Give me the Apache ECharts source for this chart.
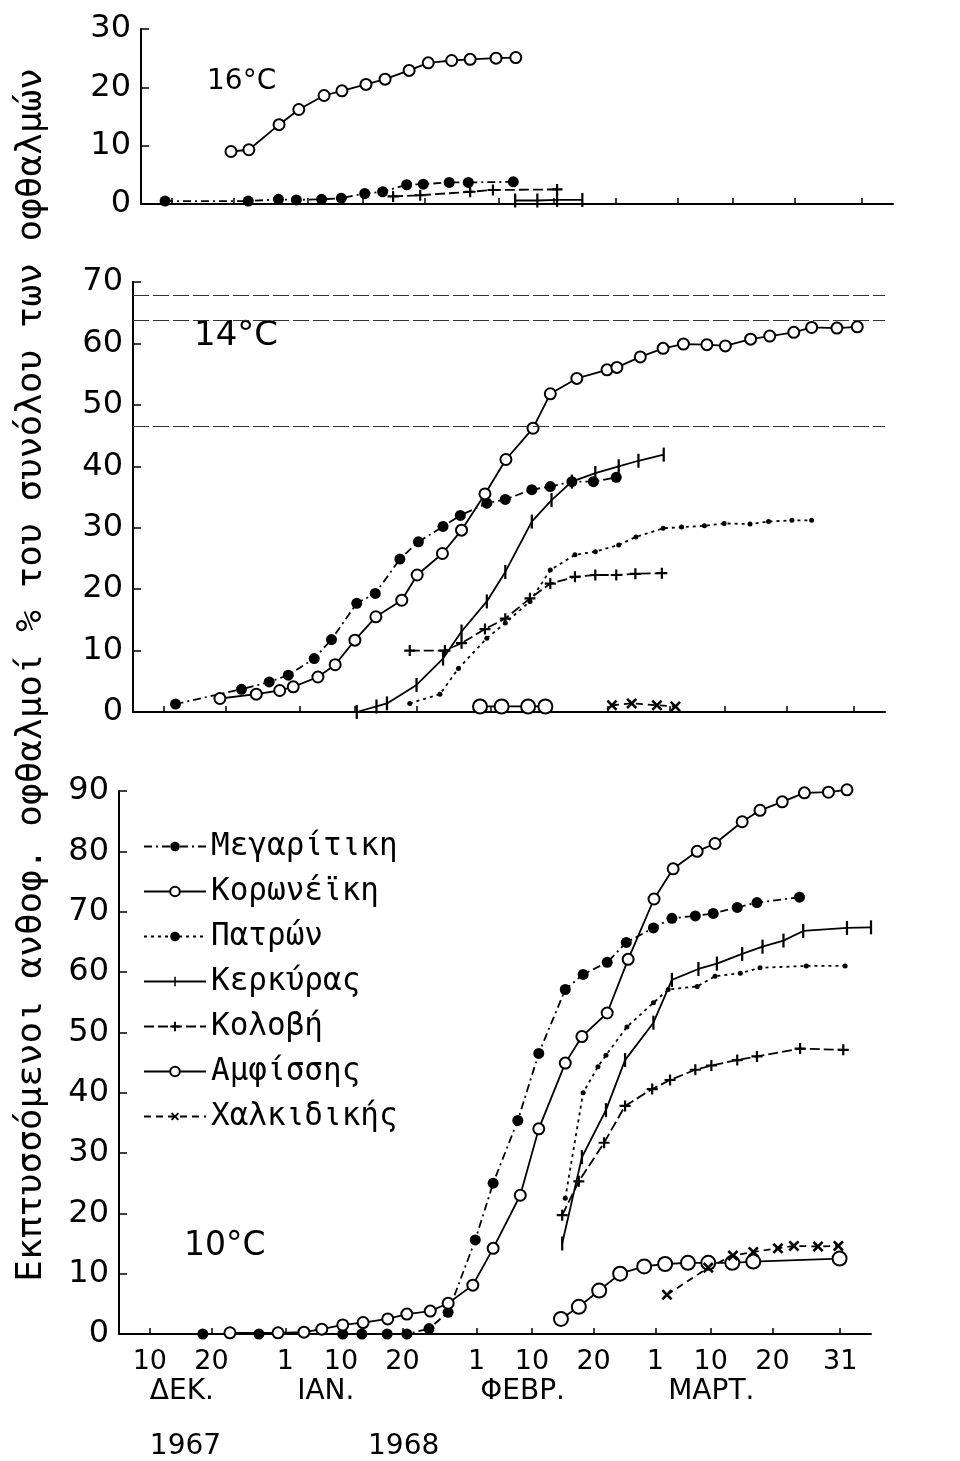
<!DOCTYPE html>
<html>
<head>
<meta charset="utf-8">
<script src="https://cdn.jsdelivr.net/npm/echarts@6.0.0/dist/echarts.min.js"></script>
<style>
html,body{margin:0;padding:0;background:#fff}
#chart{width:960px;height:1461px}
</style>
</head>
<body>
<div id="chart"></div>
<script>
// days counted from 1 Dec 1967 (day 0); 1968 is a leap year
var dayMin = 4, dayMax = 126;
var tickDays = [9, 19, 31, 40, 50, 62, 71, 81, 91, 100, 110, 121];
var tickLabels = ['10', '20', '1', '10', '20', '1', '10', '20', '1', '10', '20', '31'];
var monthDays = [9, 32.9, 62.6, 93.1];
var monthLabels = ['ΔΕΚ.', 'ΙΑΝ.', 'ΦΕΒΡ.', 'ΜΑΡΤ.'];
var yearDays = [9, 44.4];
var yearLabels = ['1967', '1968'];

var names = ['Μεγαρίτικη', 'Κορωνέϊκη', 'Πατρών', 'Κερκύρας', 'Κολοβή', 'Αμφίσσης', 'Χαλκιδικής'];

// 16°C
var meg16Days = [7.9, 21.4, 26.3, 29.2, 33.3, 36.5, 40.3, 43.2, 47.1, 49.8, 54.0, 57.1, 64.4];
var meg16 = [0.5, 0.5, 0.8, 0.7, 0.8, 1.0, 1.8, 2.1, 3.3, 3.4, 3.7, 3.7, 3.8];
var kor16Days = [18.6, 21.5, 26.4, 29.6, 33.7, 36.6, 40.5, 43.6, 47.5, 50.6, 54.4, 57.4, 61.6, 64.8];
var kor16 = [9.0, 9.3, 13.6, 16.2, 18.6, 19.4, 20.5, 21.4, 22.9, 24.2, 24.6, 24.8, 25.0, 25.1];
var ker16Days = [64.7, 68.3, 71.5, 75.6];
var ker16 = [0.6, 0.6, 0.7, 0.7];
var kol16Days = [44.9, 49.3, 57.4, 61.1, 71.5];
var kol16 = [1.3, 1.5, 2.1, 2.4, 2.5];

// 14°C
var meg14Days = [10.9, 21.6, 26.1, 29.2, 33.4, 36.2, 40.3, 43.3, 47.3, 50.3, 54.3, 57.1, 61.4, 64.4, 68.7, 71.7, 75.2, 78.7, 82.4];
var meg14 = [1.3, 3.7, 4.9, 6.0, 8.7, 11.8, 17.7, 19.3, 24.9, 27.7, 30.2, 32.0, 34.0, 34.6, 36.2, 36.7, 37.5, 37.5, 38.2];
var kor14Days = [18.1, 24.0, 27.8, 30.0, 34.0, 36.8, 40.0, 43.4, 47.6, 50.1, 54.2, 57.3, 61.1, 64.5, 68.9, 71.7, 76.0, 80.9, 82.5, 86.3, 90.0, 93.3, 97.1, 100.1, 104.2, 107.3, 111.2, 114.1, 118.2, 121.5];
var kor14 = [2.2, 2.9, 3.5, 4.1, 5.7, 7.7, 11.7, 15.5, 18.2, 22.3, 25.8, 29.6, 35.5, 41.1, 46.2, 51.8, 54.3, 55.7, 56.1, 57.8, 59.2, 59.9, 59.8, 59.6, 60.7, 61.2, 61.8, 62.6, 62.5, 62.7];
var pat14Days = [48.9, 53.8, 56.8, 61.4, 64.4, 68.4, 71.7, 75.7, 79.0, 82.8, 85.6, 90.0, 93.0, 96.7, 99.9, 104.1, 107.1, 110.9, 114.1];
var pat14 = [1.4, 2.9, 7.1, 12.0, 14.5, 18.0, 23.1, 25.6, 26.1, 27.2, 28.5, 29.9, 30.1, 30.3, 30.7, 30.6, 31.0, 31.2, 31.2];
var ker14Days = [40.3, 43.5, 45.2, 50.0, 54.3, 57.3, 61.4, 64.4, 68.7, 71.9, 75.2, 79.0, 82.8, 86.0, 90.1];
var ker14 = [0, 0.9, 1.4, 4.4, 8.7, 13.1, 18.0, 22.8, 31.0, 34.5, 37.5, 38.9, 40.0, 40.9, 41.9];
var kol14Days = [48.9, 54.6, 57.3, 61.1, 64.4, 68.4, 71.7, 75.7, 79.0, 82.4, 85.5, 89.8];
var kol14 = [10.0, 10.0, 11.2, 13.5, 15.2, 18.5, 20.9, 22.0, 22.3, 22.3, 22.5, 22.6];
var amf14Days = [60.3, 63.8, 68.1, 70.9];
var amf14 = [0.9, 0.9, 0.9, 0.9];
var hal14Days = [81.7, 84.9, 89.0, 92.0];
var hal14 = [1.1, 1.4, 1.1, 0.9];
// stray scan lines across the 14°C panel
var scanLines14 = [67.8, 63.8, 46.5];

// 10°C
var meg10Days = [17.6, 26.7, 40.3, 43.4, 47.5, 50.7, 54.3, 57.4, 61.8, 64.7, 68.7, 72.1, 76.4, 79.3, 83.2, 86.3, 90.7, 93.7, 97.5, 100.4, 104.3, 107.5, 114.4];
var meg10 = [0, 0, 0, 0, 0, 0, 0.9, 3.6, 15.6, 25.0, 35.4, 46.5, 57.1, 59.6, 61.6, 64.9, 67.3, 68.9, 69.3, 69.7, 70.7, 71.5, 72.4];
var kor10Days = [22.0, 29.8, 34.0, 36.9, 40.3, 43.6, 47.6, 50.7, 54.5, 57.4, 61.4, 64.7, 69.1, 72.1, 76.4, 79.1, 83.2, 86.6, 90.8, 93.9, 97.8, 100.7, 105.1, 108.0, 111.6, 115.2, 119.1, 122.1];
var kor10 = [0.2, 0.2, 0.3, 0.8, 1.5, 1.9, 2.5, 3.3, 3.8, 5.1, 8.1, 14.2, 23.0, 34.0, 44.9, 49.3, 53.2, 62.1, 72.1, 77.1, 80.0, 81.3, 84.9, 86.8, 88.2, 89.7, 89.8, 90.2];
var pat10Days = [76.4, 79.3, 81.7, 83.0, 86.4, 90.7, 93.1, 97.8, 100.7, 104.8, 108.0, 115.5, 121.8];
var pat10 = [22.5, 40.0, 44.3, 46.2, 50.9, 54.9, 57.1, 57.6, 59.3, 59.8, 60.7, 61.0, 61.0];
var ker10Days = [75.9, 79.1, 83.0, 86.1, 90.7, 93.7, 98.0, 101.0, 105.1, 108.4, 111.8, 115.0, 122.1, 126.0];
var ker10 = [15.0, 29.3, 37.1, 45.4, 51.6, 58.7, 60.5, 61.4, 63.0, 64.2, 65.2, 66.8, 67.3, 67.4];
var kol10Days = [75.9, 78.6, 82.7, 86.1, 90.5, 93.4, 97.5, 100.1, 104.3, 107.5, 114.5, 121.5];
var kol10 = [19.7, 25.3, 31.7, 37.8, 40.6, 42.1, 43.8, 44.5, 45.4, 46.0, 47.3, 47.1];
var amf10Days = [75.7, 78.6, 81.9, 85.3, 89.2, 92.6, 96.3, 99.6, 103.5, 106.9, 120.9];
var amf10 = [2.5, 4.5, 7.2, 10.0, 11.2, 11.6, 11.8, 11.8, 11.8, 12.0, 12.5];
var hal10Days = [92.9, 99.6, 103.6, 106.9, 110.9, 113.5, 117.4, 120.7];
var hal10 = [6.5, 11.0, 13.0, 13.6, 14.2, 14.6, 14.5, 14.6];

var plusPath = 'path://M4,0H6V4H10V6H6V10H4V6H0V4H4Z';
// thin vertical bar inside a square box, so the legend keeps it thin
var barPath = 'path://M0,0M10,10M4.2,0H5.8V10H4.2Z';
var styles = {
    'Μεγαρίτικη': {line: [8, 4, 2, 4], symbol: 'circle', size: 11},
    'Κορωνέϊκη': {line: 'solid', symbol: 'emptyCircle', size: 11},
    'Πατρών': {line: [3, 4], symbol: 'circle', size: 5},
    'Κερκύρας': {line: 'solid', symbol: barPath, size: 14},
    'Κολοβή': {line: [10, 4], symbol: plusPath, size: 11},
    'Αμφίσσης': {line: 'solid', symbol: 'emptyCircle', size: 14},
    'Χαλκιδικής': {line: [7, 5], symbol: plusPath, size: 13, rotate: 45}
};

var font = 'DejaVu Sans';
var mono = 'DejaVu Sans Mono';

function pairs(days, vals) {
    return days.map(function (d, i) { return [d, vals[i]]; });
}

function makeSeries(name, axis, days, vals) {
    var s = styles[name];
    var empty = s.symbol === 'emptyCircle';
    return {
        name: name,
        type: 'line',
        xAxisIndex: axis,
        yAxisIndex: axis,
        clip: false,
        symbol: s.symbol,
        symbolSize: s.size,
        symbolRotate: s.rotate || 0,
        lineStyle: {color: '#000', width: 1.8, type: s.line},
        itemStyle: {color: '#000', borderColor: '#000', borderWidth: empty ? 1.7 : 0},
        emphasis: {disabled: true},
        data: pairs(days, vals)
    };
}

function xAxisFor(grid, labels) {
    return {
        type: 'value', gridIndex: grid, min: dayMin, max: dayMax, position: 'bottom',
        splitLine: {show: false},
        axisLine: {lineStyle: {color: '#000', width: 2}},
        axisTick: {inside: true, length: 6, customValues: tickDays, lineStyle: {color: '#000', width: 1.5}},
        axisLabel: {
            show: labels, customValues: tickDays, margin: 14,
            color: '#000', fontSize: 27, fontFamily: font,
            formatter: function (v) {
                var i = tickDays.indexOf(v);
                return i >= 0 ? tickLabels[i] : '';
            }
        }
    };
}

function textAxis(values, texts, offset) {
    return {
        type: 'value', gridIndex: 2, min: dayMin, max: dayMax, position: 'bottom', offset: offset,
        splitLine: {show: false}, axisLine: {show: false}, axisTick: {show: false},
        axisLabel: {
            customValues: values, margin: 0, align: 'left',
            color: '#000', fontSize: 28, fontFamily: font,
            formatter: function (v) {
                var i = values.indexOf(v);
                return i >= 0 ? texts[i] : '';
            }
        }
    };
}

function yAxisFor(grid, max) {
    return {
        type: 'value', gridIndex: grid, min: 0, max: max, interval: 10,
        splitLine: {show: false},
        axisLine: {show: true, lineStyle: {color: '#000', width: 2}},
        axisTick: {show: true, inside: true, length: 8, lineStyle: {color: '#000', width: 1.5}},
        axisLabel: {color: '#000', fontSize: 32, fontFamily: font, margin: 10}
    };
}

var series = [
    makeSeries('Μεγαρίτικη', 0, meg16Days, meg16),
    makeSeries('Κορωνέϊκη', 0, kor16Days, kor16),
    makeSeries('Κερκύρας', 0, ker16Days, ker16),
    makeSeries('Κολοβή', 0, kol16Days, kol16),

    makeSeries('Μεγαρίτικη', 1, meg14Days, meg14),
    makeSeries('Κορωνέϊκη', 1, kor14Days, kor14),
    makeSeries('Πατρών', 1, pat14Days, pat14),
    makeSeries('Κερκύρας', 1, ker14Days, ker14),
    makeSeries('Κολοβή', 1, kol14Days, kol14),
    makeSeries('Αμφίσσης', 1, amf14Days, amf14),
    makeSeries('Χαλκιδικής', 1, hal14Days, hal14),

    makeSeries('Μεγαρίτικη', 2, meg10Days, meg10),
    makeSeries('Κορωνέϊκη', 2, kor10Days, kor10),
    makeSeries('Πατρών', 2, pat10Days, pat10),
    makeSeries('Κερκύρας', 2, ker10Days, ker10),
    makeSeries('Κολοβή', 2, kol10Days, kol10),
    makeSeries('Αμφίσσης', 2, amf10Days, amf10),
    makeSeries('Χαλκιδικής', 2, hal10Days, hal10)
];

series[9].markLine = {
    silent: true,
    symbol: ['none', 'none'],
    label: {show: false},
    lineStyle: {color: '#333', width: 1.2, type: [16, 4]},
    data: scanLines14.map(function (v) { return {yAxis: v}; })
};

var myChart = echarts.init(document.getElementById('chart'));
var option = {
    backgroundColor: '#fff',
    animation: false,
    grid: [
        {left: 141, right: 67, top: 29, height: 175},
        {left: 133, right: 75, top: 282, height: 430},
        {left: 119, right: 89, top: 791, height: 547}
    ],
    xAxis: [
        xAxisFor(0, false),
        xAxisFor(1, false),
        xAxisFor(2, true),
        textAxis(monthDays, monthLabels, 44),
        textAxis(yearDays, yearLabels, 99)
    ],
    yAxis: [
        yAxisFor(0, 30),
        yAxisFor(1, 70),
        yAxisFor(2, 90)
    ],
    legend: {
        data: names,
        orient: 'vertical',
        left: 138,
        top: 826,
        itemWidth: 62,
        itemHeight: 12,
        itemGap: 14,
        selectedMode: false,
        textStyle: {color: '#000', fontSize: 31, fontFamily: mono}
    },
    graphic: [
        {type: 'text', left: 207, top: 68, style: {text: '16°C', font: '28px "DejaVu Sans"', fill: '#000'}},
        {type: 'text', left: 194, top: 319, style: {text: '14°C', font: '34px "DejaVu Sans"', fill: '#000'}},
        {type: 'text', left: 184, top: 1230, style: {text: '10°C', font: '33px "DejaVu Sans"', fill: '#000'}},
        {
            type: 'text', x: 32, y: 675, rotation: Math.PI / 2,
            style: {
                text: 'Εκπτυσσόμενοι ανθοφ. οφθαλμοί % του συνόλου των οφθαλμών',
                font: '36px "DejaVu Sans Mono"',
                fill: '#000', textAlign: 'center', textVerticalAlign: 'middle'
            }
        }
    ],
    series: series
};
myChart.setOption(option);
</script>
</body>
</html>
